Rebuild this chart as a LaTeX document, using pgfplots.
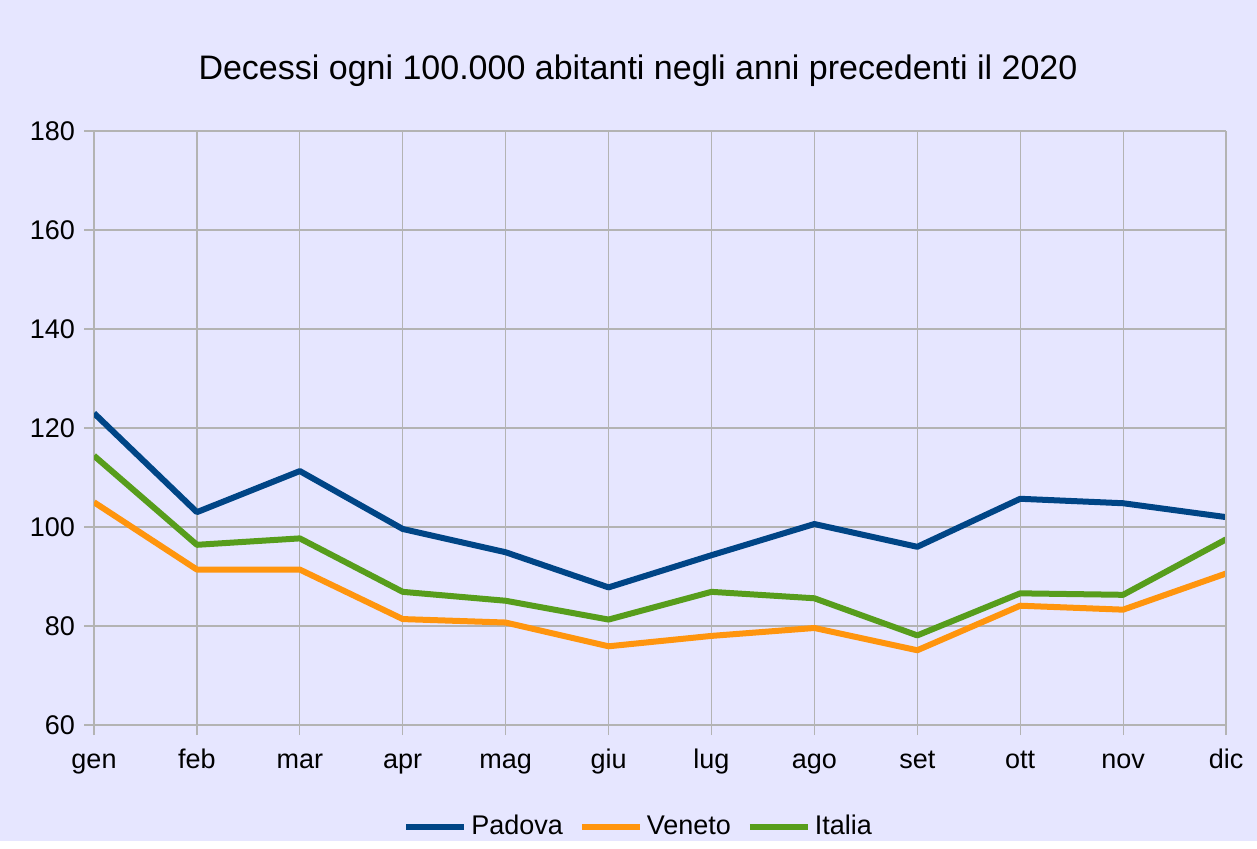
\documentclass[border=0pt]{standalone}
\usepackage{pgfplots}
\pgfplotsset{compat=1.18}
\usepackage{fontspec}
\setmainfont{Liberation Sans}
\definecolor{bgc}{HTML}{E6E6FF}
\definecolor{gridc}{HTML}{B3B3B3}
\definecolor{cpad}{HTML}{004586}
\definecolor{cven}{HTML}{FF950E}
\definecolor{cita}{HTML}{579D1C}
\begin{document}
\begin{tikzpicture}
\fill[bgc] (0,0) rectangle (628.5pt,420.5pt);
\node[font=\fontsize{17pt}{20pt}\selectfont, anchor=center] at (319pt,385pt) {Decessi ogni 100.000 abitanti negli anni precedenti il 2020};
\begin{axis}[
  at={(47pt,58pt)}, anchor=south west,
  scale only axis, width=566pt, height=297pt,
  xmin=0, xmax=11, ymin=60, ymax=180,
  xtick={0,...,11},
  xticklabels={gen,feb,mar,apr,mag,giu,lug,ago,set,ott,nov,dic},
  ytick={60,80,...,180},
  grid=major,
  grid style={gridc, line width=0.6pt},
  axis line style={gridc, line width=0.6pt},
  axis x line*=bottom, axis y line*=left,
  tick style={gridc, line width=0.6pt},
  tick align=outside, major tick length=5pt,
  ticklabel style={font=\fontsize{13.5pt}{16pt}\selectfont, text=black},
  /pgf/number format/assume math mode=true,
  /pgf/number format/1000 sep={},
  xticklabel style={anchor=north, text height=10pt, text depth=3pt, yshift=-3pt},
  yticklabel style={xshift=-1pt},
  legend columns=3,
  legend style={at={(0.482,-0.172)}, anchor=center, draw=none, fill=none,
    font=\fontsize{13.5pt}{16pt}\selectfont,
    nodes={text height=10pt, text depth=3pt},
    /tikz/every even column/.append style={column sep=6pt}},
  legend image code/.code={\draw[#1, line width=3pt] (0pt,0pt) -- (29pt,0pt);},
  every axis plot/.append style={line width=3pt, line join=round},
]
\addplot[cpad, mark=none] coordinates {(0,123.0) (1,103.0) (2,111.3) (3,99.6) (4,94.9) (5,87.8) (6,94.3) (7,100.6) (8,96.0) (9,105.7) (10,104.8) (11,102.0)};
\addlegendentry{Padova}
\addplot[cven, mark=none] coordinates {(0,105.0) (1,91.4) (2,91.4) (3,81.4) (4,80.7) (5,75.9) (6,78.0) (7,79.6) (8,75.1) (9,84.1) (10,83.3) (11,90.6)};
\addlegendentry{Veneto}
\addplot[cita, mark=none] coordinates {(0,114.4) (1,96.4) (2,97.7) (3,86.9) (4,85.1) (5,81.3) (6,86.9) (7,85.6) (8,78.1) (9,86.6) (10,86.3) (11,97.5)};
\addlegendentry{Italia}
\end{axis}
\draw[gridc, line width=0.6pt] (613pt,58pt) -- (613pt,355pt);
\end{tikzpicture}
\end{document}
